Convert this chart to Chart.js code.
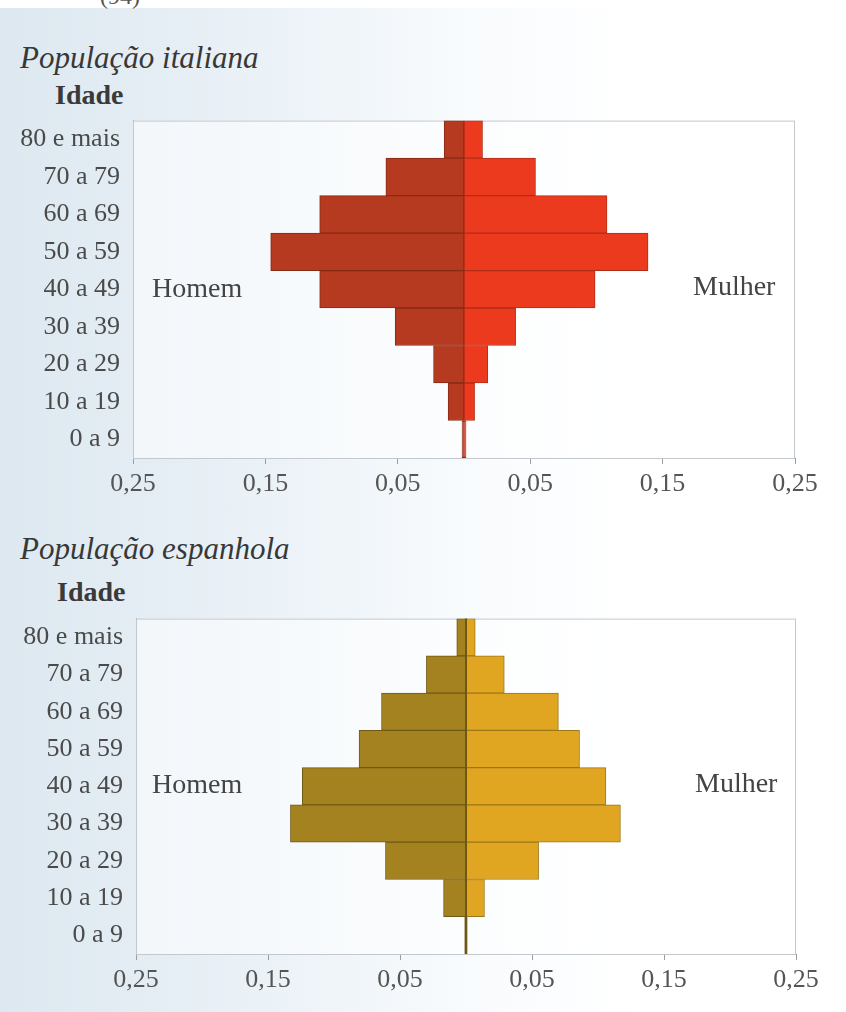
<!DOCTYPE html>
<html>
<head>
<meta charset="utf-8">
<script src="https://cdn.jsdelivr.net/npm/chart.js@4.4.1/dist/chart.umd.min.js"></script>
<style>
  html, body { margin: 0; padding: 0; }
  body {
    width: 846px; height: 1012px; position: relative; overflow: hidden;
    background: linear-gradient(to right, #dde8f0 0%, #eaf1f7 30%, #f8fbfd 55%, #ffffff 75%);
    font-family: "Liberation Serif", "DejaVu Serif", serif;
    color: #3c3c3c;
  }
  .topstrip { position: absolute; left: 0; top: 0; width: 846px; height: 8px; background: #fff; }
  .txt { position: absolute; line-height: 1; white-space: nowrap; }
  .title { font-style: italic; font-size: 31px; color: #383838; }
  .idade { font-weight: bold; font-size: 28px; color: #3a3a3a; }
  .sexo { font-size: 28px; color: #444; }
  .box { position: absolute; left: 0; width: 846px; }
</style>
</head>
<body>
<div class="topstrip"></div>
<div class="txt" style="left:100px; top:-16px; font-size:24px; color:#555;">(94)</div>

<div class="txt title" style="left:20px; top:42px;">População italiana</div>
<div class="txt idade" style="left:55px; top:81px;">Idade</div>
<div class="box" style="top:100px; height:400px;"><canvas id="chartItaly"></canvas></div>
<div class="txt sexo" style="left:152px; top:274px;">Homem</div>
<div class="txt sexo" style="left:693px; top:272px;">Mulher</div>

<div class="txt title" style="left:20px; top:533px;">População espanhola</div>
<div class="txt idade" style="left:57px; top:578px;">Idade</div>
<div class="box" style="top:598px; height:398px;"><canvas id="chartSpain"></canvas></div>
<div class="txt sexo" style="left:152px; top:770px;">Homem</div>
<div class="txt sexo" style="left:695px; top:769px;">Mulher</div>

<script>
const ageGroups = ['80 e mais', '70 a 79', '60 a 69', '50 a 59', '40 a 49', '30 a 39', '20 a 29', '10 a 19', '0 a 9'];

// proporção da população por faixa
const italyMen   = [0.015, 0.059, 0.109, 0.146, 0.109, 0.052, 0.023, 0.012, 0.0015];
const italyWomen = [0.014, 0.054, 0.108, 0.139, 0.099, 0.039, 0.018, 0.008, 0.0015];
const spainMen   = [0.007, 0.030, 0.064, 0.081, 0.124, 0.133, 0.061, 0.017, 0.001];
const spainWomen = [0.007, 0.029, 0.070, 0.086, 0.106, 0.117, 0.055, 0.014, 0.001];

const xTicks = [-0.25, -0.15, -0.05, 0.05, 0.15, 0.25];
const serif = '"Liberation Serif", "DejaVu Serif", serif';

// moldura do gráfico (fundo claro + borda cinza)
const framePlugin = {
    id: 'frame',
    beforeDatasetsDraw(chart) {
        const a = chart.chartArea;
        const ctx = chart.ctx;
        ctx.save();
        ctx.fillStyle = 'rgba(255,255,255,0.55)';
        ctx.fillRect(a.left, a.top, a.right - a.left, a.bottom - a.top);
        ctx.strokeStyle = '#c3c8cd';
        ctx.lineWidth = 1;
        ctx.strokeRect(a.left + 0.5, a.top + 0.5, a.right - a.left - 1, a.bottom - a.top);
        ctx.restore();
    }
};

// linha central no zero
const centerPlugin = {
    id: 'centerLine',
    afterDatasetsDraw(chart, args, opts) {
        if (!opts.color) return;
        const a = chart.chartArea;
        const x = chart.scales.x.getPixelForValue(0);
        const ctx = chart.ctx;
        ctx.save();
        ctx.strokeStyle = opts.color;
        ctx.lineWidth = opts.width || 2;
        ctx.beginPath();
        ctx.moveTo(x, a.top);
        ctx.lineTo(x, a.bottom);
        ctx.stroke();
        ctx.restore();
    }
};

function makePyramid(id, men, women, colors, axisLeft, plotWidth, lineColor) {
    const ctx = document.getElementById(id).getContext('2d');
    return new Chart(ctx, {
        type: 'bar',
        data: {
            labels: ageGroups,
            datasets: [
                {
                    label: 'Homem',
                    data: men.map(v => -v),
                    backgroundColor: colors.men,
                    borderColor: colors.menBorder,
                    borderWidth: 1,
                    borderSkipped: false,
                    barPercentage: 1,
                    categoryPercentage: 1
                },
                {
                    label: 'Mulher',
                    data: women,
                    backgroundColor: colors.women,
                    borderColor: colors.womenBorder,
                    borderWidth: 1,
                    borderSkipped: false,
                    barPercentage: 1,
                    categoryPercentage: 1
                }
            ]
        },
        options: {
            indexAxis: 'y',
            responsive: true,
            maintainAspectRatio: false,
            animation: false,
            layout: { padding: { top: 11, right: 846 - axisLeft - plotWidth, left: 0, bottom: 0 } },
            plugins: {
                legend: { display: false },
                tooltip: { enabled: false },
                centerLine: { color: lineColor, width: 2 }
            },
            scales: {
                x: {
                    type: 'linear',
                    stacked: true,
                    min: -0.25,
                    max: 0.25,
                    afterBuildTicks: (scale) => { scale.ticks = xTicks.map(v => ({ value: v })); },
                    afterFit: (scale) => { scale.height = 42; },
                    ticks: {
                        color: '#555',
                        font: { family: serif, size: 26 },
                        padding: 5,
                        maxRotation: 0,
                        callback: (v) => Math.abs(v).toFixed(2).replace('.', ',')
                    },
                    grid: { drawOnChartArea: false, drawTicks: true, tickLength: 6, color: '#9a9ea2' },
                    border: { color: '#8c9094', width: 1 }
                },
                y: {
                    stacked: true,
                    afterFit: (scale) => { scale.width = axisLeft; },
                    ticks: {
                        color: '#4a4a4a',
                        font: { family: serif, size: 26 },
                        padding: 5
                    },
                    grid: { display: false },
                    border: { color: '#8c9094', width: 1 }
                }
            }
        },
        plugins: [framePlugin, centerPlugin]
    });
}

makePyramid('chartItaly', italyMen, italyWomen, {
    men: '#b53a20', menBorder: '#872b15',
    women: '#ec3a1f', womenBorder: '#b02e17'
}, 133, 662, null);

makePyramid('chartSpain', spainMen, spainWomen, {
    men: '#a3821f', menBorder: '#6f5914',
    women: '#e0a622', womenBorder: '#9c7818'
}, 136, 660, '#6e5616');
</script>
</body>
</html>
